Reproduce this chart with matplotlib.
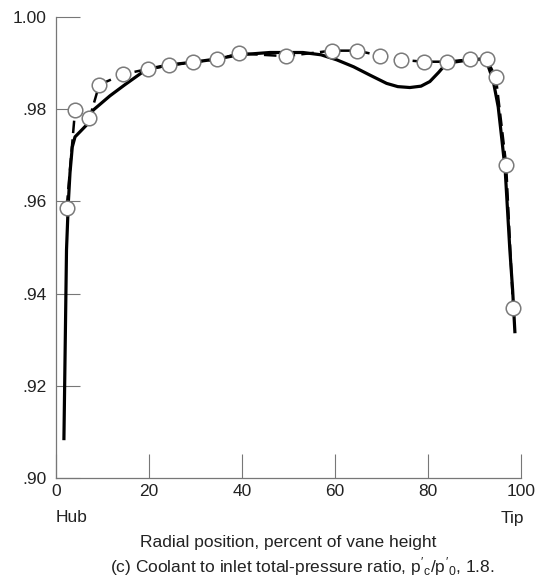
import matplotlib
matplotlib.use("Agg")
import matplotlib.pyplot as plt

plt.rcParams['font.family'] = ['Liberation Sans', 'DejaVu Sans']
plt.rcParams['mathtext.fontset'] = 'custom'
plt.rcParams['mathtext.rm'] = 'Liberation Sans'
plt.rcParams['mathtext.it'] = 'Liberation Sans'

# Measured data (open circles, dashed line)
meas_x = [2.3, 4.1, 7.2, 9.3, 14.5, 19.7, 24.3, 29.5, 34.6, 39.4, 49.4,
          59.3, 64.8, 69.7, 74.3, 79.1, 84.0, 89.0, 92.6, 94.6, 96.8, 98.3]
meas_y = [0.9586, 0.9798, 0.9780, 0.9853, 0.9876, 0.9887, 0.9895, 0.9902,
          0.9908, 0.9921, 0.9915, 0.9927, 0.9927, 0.9916, 0.9907, 0.9903,
          0.9903, 0.9908, 0.9909, 0.9869, 0.9680, 0.9369]

# Solid curve
curve_x = [1.7, 2.26, 2.65, 3.01, 3.5, 4.09, 5.16, 6.6, 7.1, 8.0, 11.6, 14.8,
           18.7, 19.8, 24.3, 29.5, 34.6, 39.4, 46.0, 53.1, 57.0, 60.4, 64.0,
           67.5, 71.1, 73.5, 76.1, 78.5, 80.4, 82.3, 84.0, 89.0, 91.8, 93.0,
           94.0, 95.1, 95.9, 96.6, 97.6, 98.2, 98.7]
curve_y = [0.9082, 0.9495, 0.9597, 0.9662, 0.9718, 0.9740, 0.9751, 0.9766,
           0.9781, 0.9798, 0.9829, 0.9853, 0.9881, 0.9887, 0.9896, 0.9902,
           0.9909, 0.9918, 0.9923, 0.9923, 0.9918, 0.9907, 0.9892,
           0.9874, 0.9856, 0.9849, 0.9847, 0.9850, 0.9860, 0.9880, 0.9900,
           0.9907, 0.9909, 0.9892, 0.9863, 0.9805, 0.9733, 0.9668,
           0.9495, 0.9408, 0.9314]

xticks = [0, 20, 40, 60, 80, 100]
yticks = [0.90, 0.92, 0.94, 0.96, 0.98, 1.00]
ytick_labels = ['.90', '.92', '.94', '.96', '.98', '1.00']

fig = plt.figure(figsize=(5.37, 5.82), dpi=100)
ax = fig.add_axes([56/537, 1-478/582, (521-56)/537, (478-17)/582])

ax.plot(curve_x, curve_y, color='black', lw=2.3, solid_capstyle='butt',
        solid_joinstyle='round', zorder=2)
ax.plot(meas_x, meas_y, color='black', lw=1.8, dashes=(5, 2.5), zorder=3,
        marker='o', markersize=10.5, markerfacecolor='white',
        markeredgecolor='#7a7a7a', markeredgewidth=1.1, clip_on=False)

ax.set_xlim(0, 100)
ax.set_ylim(0.90, 1.00)
ax.set_xticks(xticks)
ax.set_xticklabels([str(t) for t in xticks])
ax.set_yticks(yticks)
ax.set_yticklabels(ytick_labels)

for s in ['top', 'right']:
    ax.spines[s].set_visible(False)
for s in ['left', 'bottom']:
    ax.spines[s].set_color('#777777')
    ax.spines[s].set_linewidth(0.9)

ax.tick_params(axis='both', direction='in', length=17, width=0.8,
               color='#777777', labelcolor='#222222', labelsize=12.5)
ax.tick_params(axis='y', pad=6.5)
ax.tick_params(axis='x', pad=4)

ax.annotate('Hub', xy=(0, 0), xycoords=('data', 'axes fraction'),
            xytext=(0, -40), textcoords='offset pixels', ha='left', va='center',
            fontsize=12.5, color='#222222')
ax.annotate('Tip', xy=(100, 0), xycoords=('data', 'axes fraction'),
            xytext=(3, -40), textcoords='offset pixels', ha='right', va='center',
            fontsize=12.5, color='#222222')

ax.set_xlabel('Radial position, percent of vane height', fontsize=12.5,
              color='#222222', labelpad=26)

fig.text(302/537, 1-567/582,
         r"(c) Coolant to inlet total-pressure ratio, $p'_c/p'_0$, 1.8.",
         ha='center', va='center', fontsize=12.5, color='#222222')

fig.savefig('out.png', dpi=100)
